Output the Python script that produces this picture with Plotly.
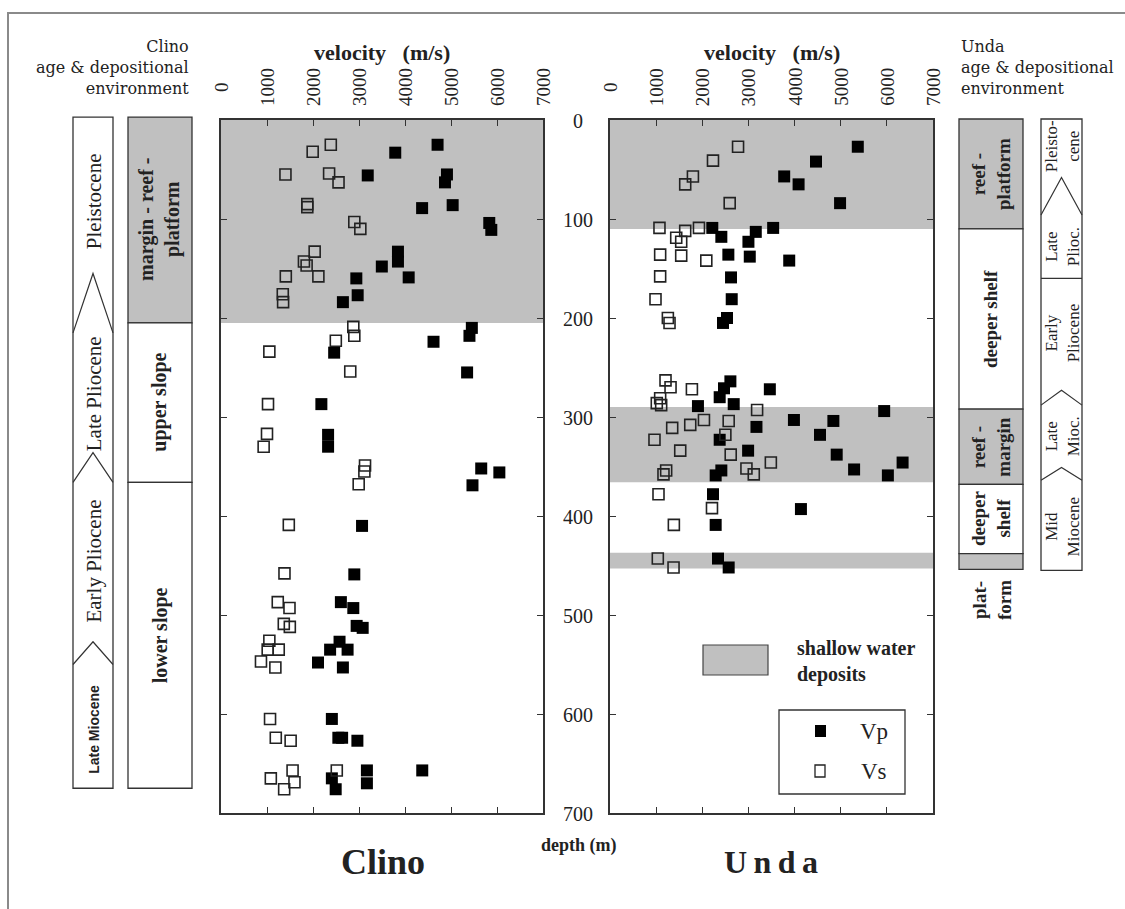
import plotly.graph_objects as go

# ---------------------------------------------------------------- data
vel_ticks = [0, 1000, 2000, 3000, 4000, 5000, 6000, 7000]
depth_ticks = [0, 100, 200, 300, 400, 500, 600, 700]

# Clino borehole: P-wave velocity (m/s) and depth (m)
clino_vp_vel = [4708, 3788, 3190, 4912, 4869, 4372, 5036, 5832, 5876, 3847, 3847,
                3496, 2942, 4080, 2971, 2650, 5453, 5401, 4620, 2460, 5350, 2182,
                2328, 2328, 5657, 6051, 5467, 3066, 2898, 2606, 2876, 2949, 3080,
                2577, 2372, 2752, 2109, 2650,
                2410, 2551, 2633, 2965, 3172, 3172, 4375, 2410, 2493]
clino_vp_depth = [25, 33, 56, 55, 63, 89, 86, 104, 111, 133, 143,
                  148, 160, 159, 177, 184, 210, 218, 224, 235, 255, 287,
                  318, 330, 352, 356, 369, 410, 459, 487, 493, 511, 513,
                  527, 535, 535, 548, 553,
                  605, 624, 624, 627, 657, 670, 657, 665, 676]
# Clino borehole: S-wave velocity (m/s) and depth (m)
clino_vs_vel = [2387, 1993, 1401, 2350, 2555, 1876, 1876, 2898, 3029, 2036, 1803,
                1861, 1409, 2117, 1343, 1350, 2876, 2898, 2496, 1051, 2810, 1022,
                1000, 927, 3131, 3117, 2993, 1474, 1380, 1234, 1489, 1365, 1496,
                1051, 1015, 1255, 869, 1182,
                1066, 1191, 1514, 1556, 1083, 1597, 1373, 2517]
clino_vs_depth = [25, 32, 55, 54, 63, 85, 88, 103, 110, 133, 143,
                  147, 158, 158, 176, 184, 209, 218, 223, 234, 254, 287,
                  317, 330, 349, 355, 368, 409, 458, 487, 493, 509, 512,
                  526, 535, 535, 547, 553,
                  605, 624, 627, 657, 665, 669, 676, 657]

# Unda borehole: P-wave velocity (m/s) and depth (m)
unda_vp_vel = [5370, 4464, 3775, 4087, 4986, 2217, 2413, 3159, 3536, 3000, 2565,
               3029, 3884, 2623, 2638, 2536, 2449,
               2609, 2471, 2377, 3464, 1906, 2681, 5942, 3986, 4841, 3174, 4551,
               2377, 2993, 4913, 6341, 5290, 6022, 2413, 2290, 2232, 4138, 2290,
               2341, 2572]
unda_vp_depth = [27, 42, 57, 65, 84, 109, 118, 113, 109, 123, 136,
                 138, 142, 159, 181, 200, 205,
                 264, 271, 280, 272, 289, 287, 294, 303, 304, 310, 318,
                 323, 334, 338, 346, 353, 359, 354, 359, 378, 393, 409,
                 443, 452]
# Unda borehole: S-wave velocity (m/s) and depth (m)
unda_vs_vel = [2775, 2232, 1797, 1630, 2594, 1072, 1630, 1928, 1435, 1543, 1087,
               1543, 2087, 1087, 986, 1254, 1290,
               1203, 1312, 1775, 1087, 1014, 1109, 3188, 2036, 2572, 1348, 1739,
               964, 2500, 1522, 2616, 3486, 2957, 3116, 1217, 1159, 1051, 2210,
               1384, 1036, 1377]
unda_vs_depth = [27, 41, 57, 65, 84, 109, 112, 109, 119, 123, 136,
                 137, 142, 158, 181, 200, 205,
                 263, 270, 272, 281, 286, 288, 293, 303, 304, 311, 308,
                 323, 318, 334, 338, 346, 352, 358, 354, 358, 378, 392,
                 409, 443, 452]

# shallow-water intervals (depth ranges, m)
clino_shallow = [(0, 205)]
unda_shallow = [(0, 110), (290, 366), (437, 453)]

# depositional environment columns: (top depth, bottom depth, label, shaded)
clino_env = [(-3, 205, "margin - reef -<br>platform", True),
             (205, 366, "upper slope", False),
             (366, 675, "lower slope", False)]
unda_env = [(-1, 110, "reef -<br>platform", True),
            (110, 292, "deeper shelf", False),
            (292, 368, "reef -<br>margin", True),
            (368, 438, "deeper<br>shelf", False),
            (438, 454, "", True)]

# age columns: chevron boundaries (apex depth, edge depth) and labels (centre depth)
clino_age_top, clino_age_bottom = -3, 675
clino_age_bounds = [(155, 215), (336, 366), (527, 550)]
clino_age_labels = [(82, "Pleistocene"), (277, "Late Pliocene"),
                    (446, "Early Pliocene"), (616, "Late Miocene")]
unda_age_top, unda_age_bottom = -1, 455
unda_age_chevrons = [(58, 96), (273, 288), (351, 364)]
unda_age_lines = [160]
unda_age_labels = [(27, "Pleisto-<br>cene"), (128, "Late<br>Plioc."),
                   (215, "Early<br>Pliocene"), (320, "Late<br>Mioc."),
                   (411, "Mid<br>Miocene")]

# ---------------------------------------------------------------- geometry
W, H = 1125, 909
TOP_PX, BOT_PX = 120, 813
DEPTH_MAX = 700
SERIF = "Liberation Serif, Times New Roman, serif"
WIDE_SERIF = "DejaVu Serif, serif"
SANS = "Liberation Sans, Arial, sans-serif"
SHADE = "#c0c0c0"
INK = "#222222"


def fx(px):
    return px / W


def fy(py):
    return 1 - py / H


def depth_px(d):
    return TOP_PX + d * (BOT_PX - TOP_PX) / DEPTH_MAX


annotations = []
shapes = []


def note(text, x, y, size, xref="paper", yref="paper", angle=0, xanchor="center",
         family=SERIF, align="center"):
    annotations.append(dict(text=text, x=x, y=y, xref=xref, yref=yref,
                            xanchor=xanchor, yanchor="middle", textangle=angle,
                            align=align, showarrow=False,
                            font=dict(family=family, size=size, color=INK)))


fig = go.Figure()

marker_vp = dict(symbol="square", size=12, color="black", line=dict(width=0))
marker_vs = dict(symbol="square-open", size=11, color=INK, line=dict(width=1.6, color=INK))

fig.add_trace(go.Scatter(x=clino_vp_vel, y=clino_vp_depth, mode="markers",
                         marker=marker_vp, xaxis="x", yaxis="y", name="Vp"))
fig.add_trace(go.Scatter(x=clino_vs_vel, y=clino_vs_depth, mode="markers",
                         marker=marker_vs, xaxis="x", yaxis="y", name="Vs"))
fig.add_trace(go.Scatter(x=unda_vp_vel, y=unda_vp_depth, mode="markers",
                         marker=marker_vp, xaxis="x2", yaxis="y2", name="Vp"))
fig.add_trace(go.Scatter(x=unda_vs_vel, y=unda_vs_depth, mode="markers",
                         marker=marker_vs, xaxis="x2", yaxis="y2", name="Vs"))

axis_common = dict(showgrid=False, zeroline=False, showline=True, mirror="ticks",
                   linecolor="#333333", linewidth=1.5, ticks="inside", ticklen=6,
                   tickwidth=1.2, tickcolor="#333333", showticklabels=False)
ydom = [fy(BOT_PX), fy(TOP_PX)]
fig.update_layout(
    xaxis=dict(domain=[fx(221), fx(543)], range=[0, 7000], anchor="y",
               tickvals=vel_ticks[1:-1], **axis_common),
    yaxis=dict(domain=ydom, range=[DEPTH_MAX, 0], anchor="x",
               tickvals=depth_ticks[1:-1], **axis_common),
    xaxis2=dict(domain=[fx(610), fx(933)], range=[0, 7000], anchor="y2",
                tickvals=vel_ticks[1:-1], **axis_common),
    yaxis2=dict(domain=ydom, range=[DEPTH_MAX, 0], anchor="x2",
                tickvals=depth_ticks[1:-1], **axis_common),
)

# shaded shallow-water intervals inside the plots
for xr, yr, bands in (("x domain", "y", clino_shallow), ("x2 domain", "y2", unda_shallow)):
    for top, bot in bands:
        shapes.append(dict(type="rect", xref=xr, yref=yr, x0=0, x1=1, y0=top, y1=bot,
                           fillcolor=SHADE, line=dict(width=0), layer="below"))

# velocity tick labels (rotated, above each panel) and axis titles
for axis in ("x", "x2"):
    for v in vel_ticks:
        note(str(v), v, fy(87), 19, xref=axis, angle=-90)
    note("<b>velocity   (m/s)</b>", 3500, fy(53), 22, xref=axis)

# depth labels between the panels
for d in depth_ticks:
    note(str(d), fx(578), fy(depth_px(d) + 1), 20)
note("<b>depth (m)</b>", fx(579), fy(845), 18)

# panel titles
note("<b>Clino</b>", fx(383), fy(862), 36)
note("<b>U\u2009n\u2009d\u2009a</b>", fx(771), fy(862), 32)

# column headers (one block each, three lines)
note("Clino<br>age & depositional<br>environment", fx(191), fy(68), 16,
     xanchor="right", align="right", family=WIDE_SERIF)
note("Unda<br>age & depositional<br>environment", fx(959), fy(68), 16,
     xanchor="left", align="left", family=WIDE_SERIF)


def env_column(x0, x1, segments, size):
    for top, bot, label, shaded in segments:
        shapes.append(dict(type="rect", xref="paper", yref="paper",
                           x0=fx(x0), x1=fx(x1), y0=fy(depth_px(top)), y1=fy(depth_px(bot)),
                           fillcolor=SHADE if shaded else "white",
                           line=dict(color="#333333", width=1.3)))
        if label:
            note("<b>" + label + "</b>", fx((x0 + x1) / 2), fy(depth_px((top + bot) / 2)),
                 size, angle=-90)


def age_column(x0, x1, top, bot, chevrons, lines, labels, size):
    shapes.append(dict(type="rect", xref="paper", yref="paper",
                       x0=fx(x0), x1=fx(x1), y0=fy(depth_px(top)), y1=fy(depth_px(bot)),
                       fillcolor="white", line=dict(color="#333333", width=1.3)))
    xm = (x0 + x1) / 2
    for apex, edge in chevrons:
        path = "M {} {} L {} {} L {} {}".format(
            fx(x0), fy(depth_px(edge)), fx(xm), fy(depth_px(apex)),
            fx(x1), fy(depth_px(edge)))
        shapes.append(dict(type="path", xref="paper", yref="paper", path=path,
                           line=dict(color="#333333", width=1.2)))
    for d in lines:
        shapes.append(dict(type="line", xref="paper", yref="paper",
                           x0=fx(x0), x1=fx(x1), y0=fy(depth_px(d)), y1=fy(depth_px(d)),
                           line=dict(color="#333333", width=1.2)))
    for d, label in labels:
        if label == "Late Miocene":
            note("<b>" + label + "</b>", fx(xm + 1), fy(depth_px(d)), 14, angle=-90,
                 family=SANS)
        else:
            note(label, fx(xm + 1), fy(depth_px(d)), size, angle=-90)


age_column(73, 113, clino_age_top, clino_age_bottom, clino_age_bounds, [],
           clino_age_labels, 21)
env_column(128, 192, clino_env, 20)
env_column(959, 1023, unda_env, 19)
age_column(1041, 1082, unda_age_top, unda_age_bottom, unda_age_chevrons, unda_age_lines,
           unda_age_labels, 17)
note("<b>plat-<br>form</b>", fx(992), fy(600), 19, angle=-90)

# shallow-water key
shapes.append(dict(type="rect", xref="paper", yref="paper", x0=fx(703), x1=fx(768),
                   y0=fy(645), y1=fy(675), fillcolor=SHADE,
                   line=dict(color="#444444", width=1.2)))
note("<b>shallow water<br>deposits</b>", fx(795), fy(661), 20, xanchor="left",
     align="left")

# Vp / Vs key
shapes.append(dict(type="rect", xref="paper", yref="paper", x0=fx(779), x1=fx(905),
                   y0=fy(710), y1=fy(794), fillcolor="white",
                   line=dict(color="#333333", width=1.3)))
shapes.append(dict(type="rect", xref="paper", yref="paper", x0=fx(815), x1=fx(826),
                   y0=fy(725), y1=fy(737), fillcolor="black", line=dict(width=0)))
shapes.append(dict(type="rect", xref="paper", yref="paper", x0=fx(815), x1=fx(825),
                   y0=fy(765), y1=fy(777), fillcolor="white",
                   line=dict(color=INK, width=1.3)))
note("Vp", fx(874), fy(731), 23)
note("Vs", fx(874), fy(771), 23)

# page frame
shapes.append(dict(type="rect", xref="paper", yref="paper", x0=fx(8), x1=fx(1140),
                   y0=fy(13), y1=fy(930), line=dict(color="#8a8a8a", width=2),
                   fillcolor="rgba(0,0,0,0)"))

fig.update_layout(width=W, height=H, margin=dict(l=0, r=0, t=0, b=0),
                  paper_bgcolor="white", plot_bgcolor="white", showlegend=False,
                  shapes=shapes, annotations=annotations)

fig.write_html("out.html")
